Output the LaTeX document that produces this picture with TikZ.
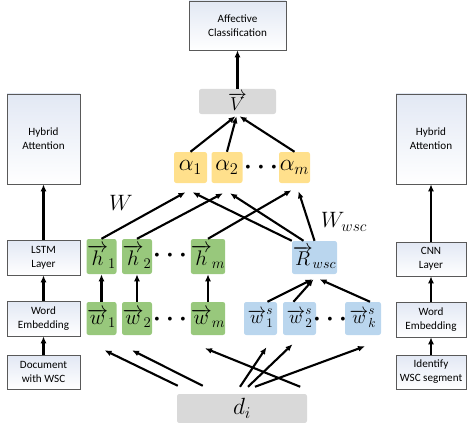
\documentclass[tikz,border=0pt]{standalone}
\usepackage{fix-cm}
\usepackage{fontspec}
\newfontfamily\boxfont{Carlito}
\usetikzlibrary{arrows.meta,calc}
\definecolor{cgreen}{RGB}{152,200,124}
\definecolor{cyellow}{RGB}{255,224,140}
\definecolor{cblue}{RGB}{186,214,238}
\definecolor{cgrey}{RGB}{217,217,217}
\definecolor{cshade}{RGB}{226,232,244}
\tikzset{
  side/.style={draw=black!65,top color=cshade,bottom color=white,align=center,inner sep=0pt,
    font=\boxfont\fontsize{9.5}{12}\selectfont,minimum width=73*0.03cm},
  cell/.style={rounded corners=2pt,inner sep=0pt,font=\fontsize{18}{22}\selectfont,minimum height=33*0.03cm},
  gcell/.style={cell,fill=cgreen,minimum width=30*0.03cm},
  ycell/.style={cell,fill=cyellow,minimum width=31*0.03cm,minimum height=31*0.03cm,font=\fontsize{20}{22}\selectfont},
  bcell/.style={cell,fill=cblue,minimum width=33*0.03cm,font=\fontsize{16}{20}\selectfont},
  dots/.style={inner sep=0pt,font=\fontsize{12}{12}\selectfont},
  arr/.style={-{Latex[length=6pt,width=5pt]},line width=1.8pt}
}
\newcommand{\threedots}{\textbullet\hspace{2pt}\textbullet\hspace{2pt}\textbullet}
\begin{document}
\begin{tikzpicture}[x=0.03cm,y=-0.03cm]
\useasboundingbox (0,0) rectangle (474,423);
\node[side,minimum width=97*0.03cm,minimum height=49*0.03cm] (C) at (237.5,25.5) {Affective\\Classification};
\node[cell,fill=cgrey,minimum width=77*0.03cm,minimum height=25*0.03cm,font=\fontsize{16}{18}\selectfont] (V) at (237.5,101.5) {$\overrightarrow{V}$};
\node[ycell,minimum width=33*0.03cm] (a1) at (190.5,167.5) {$\alpha_1$};
\node[ycell] (a2) at (227,167.5) {$\alpha_2$};
\node[ycell] (am) at (294.5,167.5) {$\alpha_m$};
\node[dots] (ad) at (261,168) {\threedots};
\node[gcell,minimum height=35*0.03cm] (h1) at (101.5,256.5) {$\overrightarrow{h}_1$};
\node[gcell,minimum height=35*0.03cm] (h2) at (137,256.5) {$\overrightarrow{h}_2$};
\node[gcell,minimum height=35*0.03cm] (hm) at (208,256.5) {$\overrightarrow{h}_m$};
\node[dots] (hd) at (170,256) {\threedots};
\node[gcell] (w1) at (101.5,318.5) {$\overrightarrow{w}_1$};
\node[gcell] (w2) at (137,318.5) {$\overrightarrow{w}_2$};
\node[gcell] (wm) at (208,318.5) {$\overrightarrow{w}_m$};
\node[dots] (wd) at (170,320) {\threedots};
\node[bcell,minimum width=45*0.03cm,font=\fontsize{17}{20}\selectfont] (R) at (314.5,257.5) {$\overrightarrow{R}_{wsc}$};
\node[bcell] (s1) at (260.5,318.5) {$\overrightarrow{w}_1^s$};
\node[bcell] (s2) at (299.5,318.5) {$\overrightarrow{w}_2^s$};
\node[bcell,minimum width=36*0.03cm] (sk) at (363,318.5) {$\overrightarrow{w}_k^s$};
\node[dots] (sd) at (330,320) {\threedots};
\node[cell,fill=cgrey,minimum width=130*0.03cm,minimum height=29*0.03cm,font=\fontsize{20}{22}\selectfont] (d) at (242,408.5) {$d_i$};
\node[font=\fontsize{19}{20}\selectfont] (W) at (121,203) {$W$};
\node[font=\fontsize{19}{20}\selectfont] (Ww) at (344,222) {$W_{wsc}$};
\node[side,minimum height=90*0.03cm] (HL) at (43.5,139) {Hybrid\\Attention};
\node[side,minimum height=35*0.03cm] (LSTM) at (43.5,257.5) {LSTM\\Layer};
\node[side,minimum height=35*0.03cm] (EL) at (43.5,318.5) {Word\\Embedding};
\node[side,minimum height=34*0.03cm] (DL) at (43.5,372) {Document\\with WSC};
\node[side,minimum width=70*0.03cm,minimum height=90*0.03cm] (HR) at (431,139) {Hybrid\\Attention};
\node[side,minimum width=70*0.03cm,minimum height=34*0.03cm] (CNN) at (431,259) {CNN\\Layer};
\node[side,minimum width=70*0.03cm,minimum height=35*0.03cm] (ER) at (431,319.5) {Word\\Embedding};
\node[side,minimum width=70*0.03cm,minimum height=34*0.03cm] (IR) at (431,372) {Identify\\WSC segment};
\draw[arr] (V) -- (C);
\draw[arr] (a1.north) -- ($(V.south)+(-2,2)$);
\draw[arr] (a2.north) -- ($(V.south)+(-1,2)$);
\draw[arr] (am.north) -- ($(V.south)+(2,2)$);
\draw[arr] (h1.north) -- ($(a1.south)+(-5,9)$);
\draw[arr] (h2.north) -- ($(a2.south)+(-4,10)$);
\draw[arr] (hm.north) -- ($(am.south)+(-3,7)$);
\draw[arr] (R.north west) -- ($(a1.south)+(2,9)$);
\draw[arr] ($(R.north)+(-11,0)$) -- ($(a2.south)+(3,10)$);
\draw[arr] (R.north) -- ($(am.south)+(4,8)$);
\draw[arr] (w1) -- (h1);
\draw[arr] (w2) -- (h2);
\draw[arr] (wm) -- (hm);
\draw[arr] ($(s1.north)+(7,0)$) -- ($(R.south)+(-2,5)$);
\draw[arr] ($(s2.north)+(-6,0)$) -- ($(R.south)+(-1,5)$);
\draw[arr] ($(sk.north)+(7,0)$) -- ($(R.south)+(5,5)$);
\draw[arr] ($(d.north west)+(1,-8)$) -- ($(w1.south)+(3,15)$);
\draw[arr] ($(d.north west)+(26,-8)$) -- ($(w2.south)+(-5,15)$);
\draw[arr] ($(d.north east)+(-7,-7)$) -- ($(wm.south)+(-3,13)$);
\draw[arr] ($(d.north)+(-2,-7)$) -- ($(s1.south)+(6,12)$);
\draw[arr] ($(d.north)+(6,-7)$) -- ($(s2.south)+(-7,9)$);
\draw[arr] ($(d.north)+(13,-7)$) -- ($(sk.south)+(2,11)$);
\draw[arr] (LSTM) -- (HL);
\draw[arr] (EL) -- (LSTM);
\draw[arr] (DL) -- (EL);
\draw[arr] (CNN) -- (HR);
\draw[arr] (ER) -- (CNN);
\draw[arr] (IR) -- (ER);
\end{tikzpicture}
\end{document}
